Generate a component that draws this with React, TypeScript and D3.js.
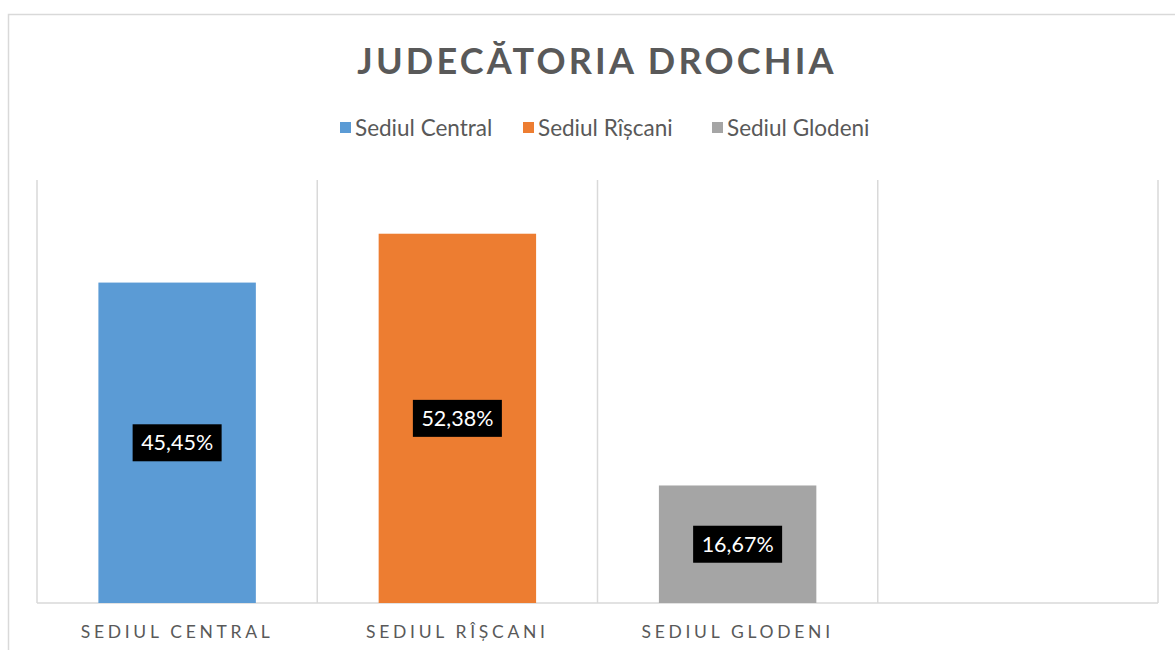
import React, { useEffect, useRef } from 'react';
import * as d3 from 'd3';

// chart values
const categories = ['Sediul Central', 'Sediul Rîșcani', 'Sediul Glodeni', ''];
const seriesNames = ['Sediul Central', 'Sediul Rîșcani', 'Sediul Glodeni'];
const values = [45.45, 52.38, 16.67];
const valueLabels = ['45,45%', '52,38%', '16,67%'];
const colors = ['#5B9BD5', '#ED7D31', '#A5A5A5'];

const App = () => {
  const ref = useRef<SVGSVGElement>(null);

  useEffect(() => {
    const svg = d3.select(ref.current);
    svg.selectAll('*').remove();

    const width = 1175;
    const height = 650;
    const margin = { top: 180, right: 17, bottom: 47, left: 37 };
    const font = 'Lato, "Open Sans", sans-serif';
    const textColor = '#595959';
    const gridColor = '#d9d9d9';

    // chart border
    svg.append('rect')
      .attr('x', 8.5).attr('y', 14.5)
      .attr('width', 1300).attr('height', 800)
      .attr('fill', 'none')
      .attr('stroke', gridColor)
      .attr('stroke-width', 1.5);

    const x = d3.scaleBand<string>()
      .domain(categories)
      .range([margin.left, width - margin.right])
      .padding(0);

    const y = d3.scaleLinear()
      .domain([0, 60])
      .range([height - margin.bottom, margin.top]);

    // vertical grid lines at category boundaries
    const bounds = categories.map(c => x(c)!).concat([width - margin.right]);
    svg.append('g')
      .selectAll('line')
      .data(bounds)
      .join('line')
      .attr('x1', d => d).attr('x2', d => d)
      .attr('y1', y(60)).attr('y2', y(0))
      .attr('stroke', gridColor)
      .attr('stroke-width', 1.5);

    // category axis line
    svg.append('line')
      .attr('x1', margin.left).attr('x2', width - margin.right)
      .attr('y1', y(0)).attr('y2', y(0))
      .attr('stroke', gridColor)
      .attr('stroke-width', 1.5);

    const inner = d3.scaleBand<number>()
      .domain([0])
      .range([0, x.bandwidth()])
      .paddingInner(0)
      .paddingOuter(0.39);

    const bars = values.map((v, i) => ({ v, i, cat: categories[i] }));

    svg.append('g')
      .selectAll('rect')
      .data(bars)
      .join('rect')
      .attr('x', d => x(d.cat)! + inner(0)!)
      .attr('y', d => y(d.v))
      .attr('width', inner.bandwidth())
      .attr('height', d => y(0) - y(d.v))
      .attr('fill', d => colors[d.i]);

    // data labels in black boxes
    const lbl = svg.append('g')
      .selectAll('g')
      .data(bars)
      .join('g')
      .attr('transform', d => `translate(${x(d.cat)! + x.bandwidth() / 2},${(y(d.v) + y(0)) / 2})`);

    lbl.append('rect')
      .attr('x', -44.5).attr('y', -18.5)
      .attr('width', 89).attr('height', 37)
      .attr('fill', '#000');

    lbl.append('text')
      .attr('text-anchor', 'middle')
      .attr('dy', '0.35em')
      .attr('fill', '#fff')
      .style('font-family', font)
      .style('font-size', '21.5px')
      .text(d => valueLabels[d.i]);

    // category labels
    svg.append('g')
      .selectAll('text')
      .data(categories)
      .join('text')
      .attr('x', d => x(d)! + x.bandwidth() / 2)
      .attr('y', 638)
      .attr('text-anchor', 'middle')
      .attr('fill', textColor)
      .style('font-family', font)
      .style('font-size', '17.5px')
      .style('letter-spacing', '3.7px')
      .text(d => d.toUpperCase());

    // title
    svg.append('text')
      .attr('x', 597)
      .attr('y', 74)
      .attr('text-anchor', 'middle')
      .attr('fill', textColor)
      .style('font-family', font)
      .style('font-weight', 'bold')
      .style('font-size', '36px')
      .style('letter-spacing', '3.2px')
      .text('JUDECĂTORIA DROCHIA');

    // legend
    const legendX = [340, 523, 712];
    const legend = svg.append('g')
      .selectAll('g')
      .data(seriesNames)
      .join('g')
      .attr('transform', (d, i) => `translate(${legendX[i]},122)`);

    legend.append('rect')
      .attr('width', 11).attr('height', 11)
      .attr('fill', (d, i) => colors[i]);

    legend.append('text')
      .attr('x', 15)
      .attr('y', 14)
      .attr('fill', textColor)
      .style('font-family', font)
      .style('font-size', '22.5px')
      .text(d => d);
  }, []);

  return (
    <svg
      ref={ref}
      width={1175}
      height={650}
      style={{ position: 'absolute', left: 0, top: 0, background: '#fff' }}
    />
  );
};

export default App;
